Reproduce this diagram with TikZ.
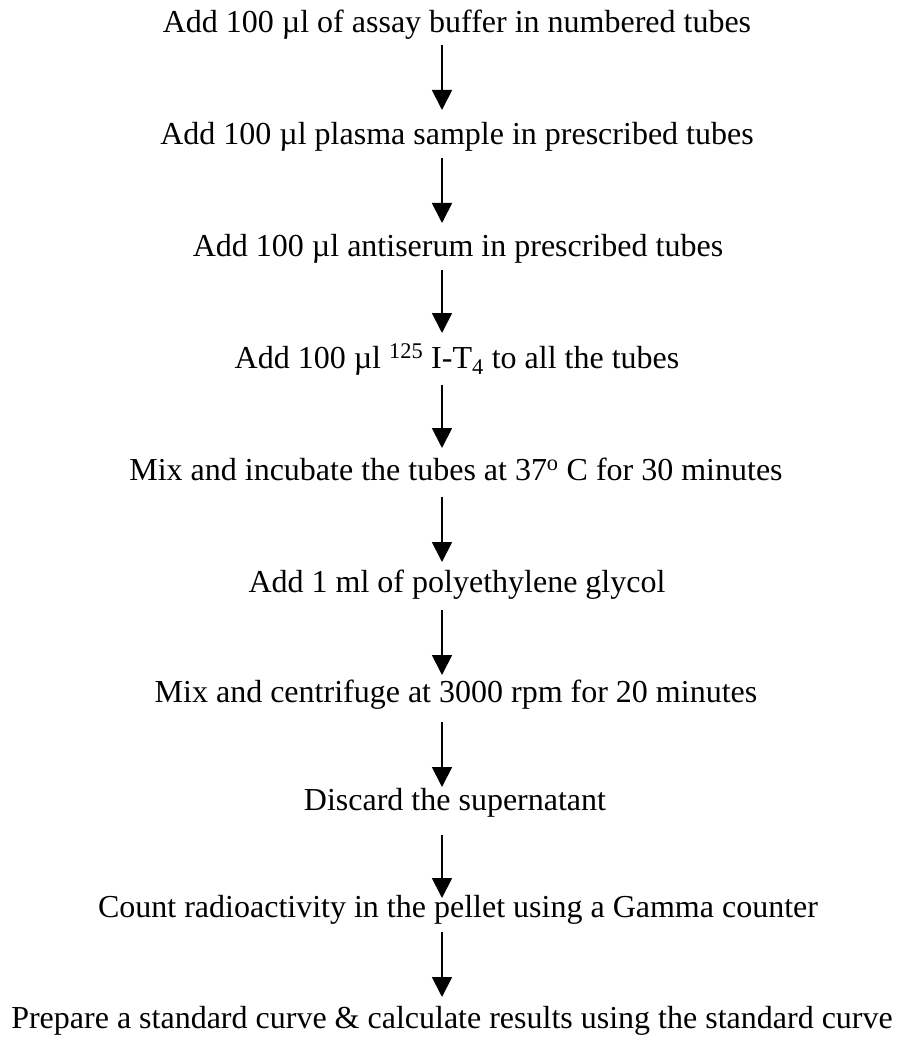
\documentclass[tikz,border=0pt]{standalone}
\usepackage{fontspec}
\setmainfont{Liberation Serif}
\usetikzlibrary{arrows.meta}
\begin{document}
\begin{tikzpicture}[x=1pt,y=1pt,
  txt/.style={inner sep=0pt,anchor=base,font=\fontsize{32}{36}\selectfont},
  arr/.style={line width=1.8pt,-{Triangle[width=20pt,length=20pt]}}]
\useasboundingbox (0,0) rectangle (905,-1040);
\coordinate (ax) at (442,0);
\node[txt] (t1) at (457,-33) {Add 100 µl of assay buffer in numbered tubes};
\node[txt] (t2) at (457,-145) {Add 100 µl plasma sample in prescribed tubes};
\node[txt] (t3) at (458,-257) {Add 100 µl antiserum in prescribed tubes};
\node[txt] (t4) at (457,-368) {Add 100 µl \textsuperscript{125} I-T\textsubscript{4} to all the tubes};
\node[txt] (t5) at (456,-480) {Mix and incubate the tubes at 37\textsuperscript{o} C for 30 minutes};
\node[txt] (t6) at (457,-592) {Add 1 ml of polyethylene glycol};
\node[txt] (t7) at (456,-702) {Mix and centrifuge at 3000 rpm for 20 minutes};
\node[txt] (t8) at (455,-810) {Discard the supernatant};
\node[txt] (t9) at (458,-917) {Count radioactivity in the pellet using a Gamma counter};
\node[txt] (t10) at (452,-1028) {Prepare a standard curve \& calculate results using the standard curve};
\draw[arr] ([yshift=-12pt]t1.base -| ax) -- ([yshift=35pt]t2.base -| ax);
\draw[arr] ([yshift=-13pt]t2.base -| ax) -- ([yshift=34pt]t3.base -| ax);
\draw[arr] ([yshift=-13pt]t3.base -| ax) -- ([yshift=35pt]t4.base -| ax);
\draw[arr] ([yshift=-17pt]t4.base -| ax) -- ([yshift=32pt]t5.base -| ax);
\draw[arr] ([yshift=-17pt]t5.base -| ax) -- ([yshift=30pt]t6.base -| ax);
\draw[arr] ([yshift=-18pt]t6.base -| ax) -- ([yshift=27pt]t7.base -| ax);
\draw[arr] ([yshift=-20pt]t7.base -| ax) -- ([yshift=23pt]t8.base -| ax);
\draw[arr] ([yshift=-25pt]t8.base -| ax) -- ([yshift=19pt]t9.base -| ax);
\draw[arr] ([yshift=-15pt]t9.base -| ax) -- ([yshift=31pt]t10.base -| ax);
\end{tikzpicture}
\end{document}
